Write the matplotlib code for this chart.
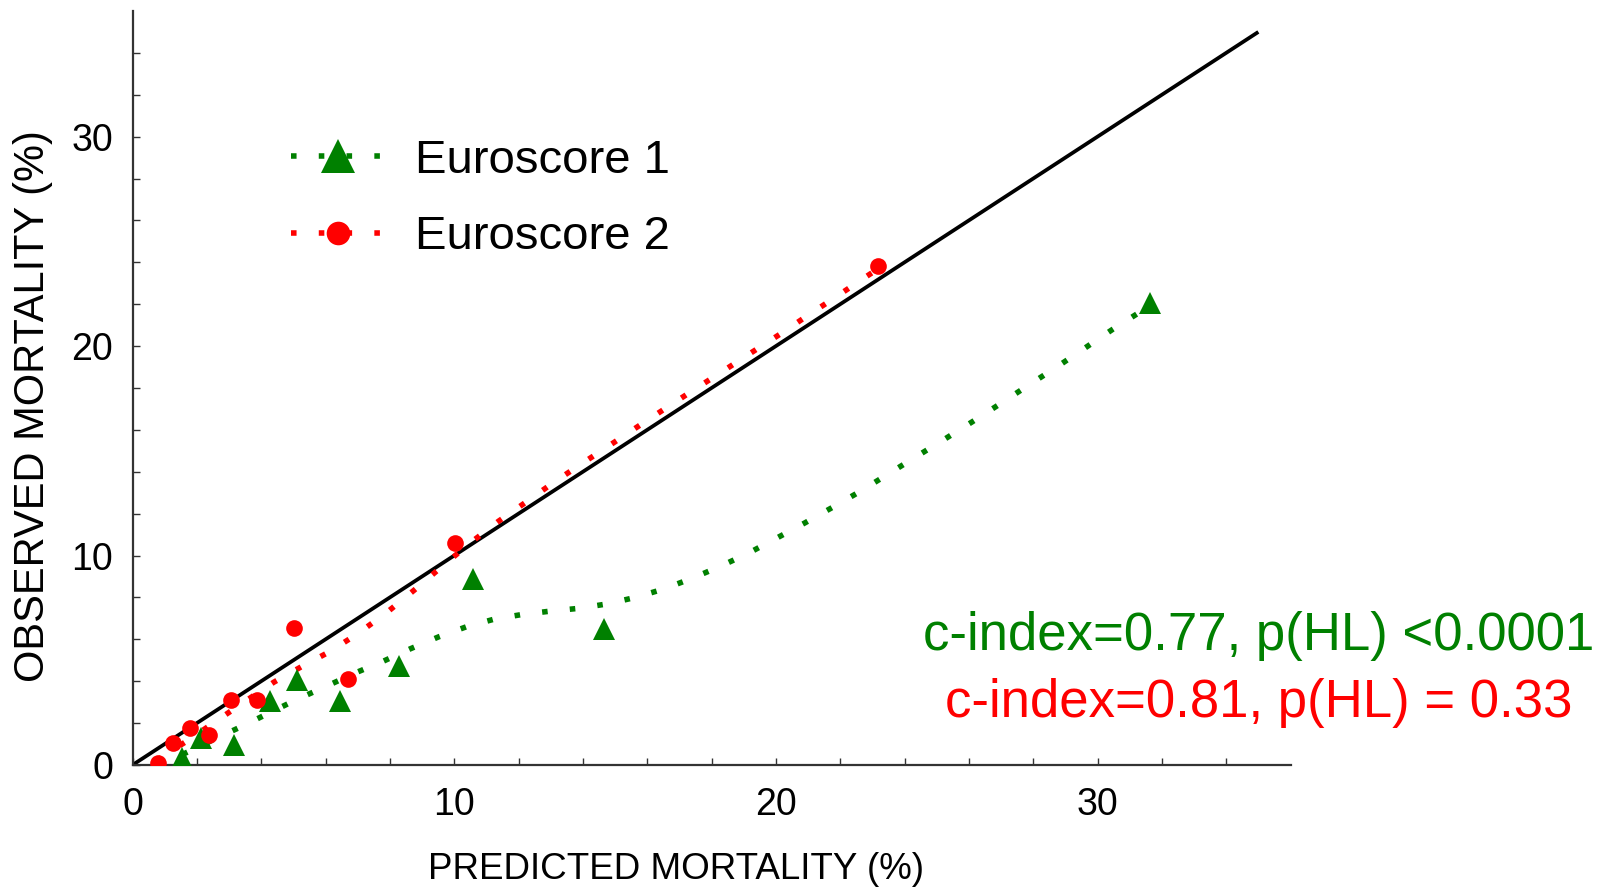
import matplotlib
matplotlib.use("Agg")
import matplotlib.pyplot as plt

# ---- data ----
e1_pred = [1.55, 2.14, 3.16, 4.27, 5.12, 6.45, 8.28, 10.6, 14.65, 31.63]
e1_obs = [0.32, 1.28, 0.96, 3.04, 4.08, 3.04, 4.71, 8.9, 6.5, 22.07]

e2_pred = [0.78, 1.27, 1.78, 2.38, 3.07, 3.88, 5.03, 6.70, 10.02, 23.19]
e2_obs = [0.08, 1.04, 1.76, 1.41, 3.12, 3.12, 6.52, 4.12, 10.6, 23.82]

# smoothed calibration curves
e1_fit_x = [1.55, 2.5, 3.42, 4.27, 5.12, 6.0, 6.9, 7.76, 8.64, 9.52, 10.38, 11.26,
            12.13, 13.01, 13.88, 14.75, 15.63, 16.51, 17.39, 18.25, 19.13, 20.01,
            20.88, 21.76, 22.64, 23.5, 24.36, 25.24, 26.11, 26.99, 27.86, 28.74,
            29.62, 30.48, 31.6]
e1_fit_y = [0.5, 1.2, 1.86, 2.5, 3.14, 3.74, 4.38, 4.93, 5.55, 6.12, 6.6, 6.97,
            7.19, 7.35, 7.48, 7.69, 8.0, 8.4, 8.91, 9.47, 10.1, 10.82,
            11.54, 12.3, 13.08, 13.9, 14.72, 15.55, 16.39, 17.26, 18.14, 19.01,
            19.92, 20.81, 21.9]

e2_fit_x = [0.75, 0.93, 1.83, 2.69, 3.57, 4.40, 5.26, 6.14, 7.0, 7.88, 8.75, 9.63,
            10.5, 11.38, 12.25, 13.12, 14.01, 14.89, 15.75, 16.61, 17.49, 18.37,
            19.25, 20.13, 20.99, 21.87, 22.75, 23.19]
e2_fit_y = [0.2, 0.4, 1.28, 2.19, 3.11, 3.96, 4.70, 5.42, 6.27, 7.25, 8.34, 9.49,
            10.6, 11.64, 12.57, 13.52, 14.43, 15.32, 16.2, 17.07, 17.95, 18.82,
            19.7, 20.57, 21.46, 22.35, 23.26, 23.7]

ident_x = [0, 35]
ident_y = [0, 35]

labels = ["Euroscore 1", "Euroscore 2"]
stats = ["c-index=0.77, p(HL) <0.0001", "c-index=0.81, p(HL) = 0.33"]
x_ticks = [0, 10, 20, 30]
y_ticks = [0, 10, 20, 30]

GREEN = "#008000"
RED = "#ff0000"

plt.rcParams["font.family"] = ["Liberation Sans", "DejaVu Sans"]

W, H = 1610, 889
fig = plt.figure(figsize=(W / 100, H / 100), dpi=100)
ax = fig.add_axes([132.5 / W, (H - 765) / H, 1158 / W, 754 / H])
ax.set_xlim(0, 36)
ax.set_ylim(0, 36)

ax.plot(ident_x, ident_y, color="black", lw=2.7, zorder=2, solid_capstyle="butt")

ax.plot(e1_fit_x, e1_fit_y, color=GREEN, lw=4.0, dashes=(1, 4), zorder=3)
ax.plot(e2_fit_x, e2_fit_y, color=RED, lw=4.0, dashes=(1, 4), zorder=3)
ax.plot(e1_pred, e1_obs, linestyle="none", marker="^", ms=16, color=GREEN,
        markeredgewidth=0, zorder=4)
ax.plot(e2_pred, e2_obs, linestyle="none", marker="o", ms=12, color=RED,
        markeredgewidth=0, zorder=4)

# legend handles
h1, = ax.plot([], [], color=GREEN, lw=4.0, dashes=(1, 4), marker="^", ms=24,
              markeredgewidth=0)
h2, = ax.plot([], [], color=RED, lw=4.0, dashes=(1, 4), marker="o", ms=17,
              markeredgewidth=0)
leg = ax.legend([h1, h2], labels, loc="center left",
                bbox_to_anchor=(291 / W, (H - 199) / H), bbox_transform=fig.transFigure,
                frameon=False, fontsize=34, handlelength=2.0, handletextpad=0.62,
                labelspacing=0.68, borderpad=0, borderaxespad=0)

for s in ["top", "right"]:
    ax.spines[s].set_visible(False)
for s in ["left", "bottom"]:
    ax.spines[s].set_linewidth(1.6)
    ax.spines[s].set_color("#333333")

ax.set_xticks(x_ticks)
ax.set_yticks(y_ticks)
ax.set_xticks(range(0, 36, 2), minor=True)
ax.set_yticks(range(0, 36, 2), minor=True)
ax.tick_params(which="both", direction="in", length=5, width=1, color="#333333")
ax.tick_params(axis="x", labelsize=27, pad=16)
ax.tick_params(axis="y", labelsize=27, pad=14)

ax.set_xlabel("PREDICTED MORTALITY (%)", fontsize=26.5, va="center")
ax.xaxis.set_label_coords(0.469, -0.139)
ax.set_ylabel("OBSERVED MORTALITY (%)", fontsize=30, va="center")
ax.yaxis.set_label_coords(-0.086, 0.476)

fig.text(1259 / W, (H - 636) / H, stats[0], color=GREEN, fontsize=38,
         ha="center", va="center")
fig.text(1259 / W, (H - 703) / H, stats[1], color=RED, fontsize=38,
         ha="center", va="center")

fig.savefig("out.png", dpi=100)
